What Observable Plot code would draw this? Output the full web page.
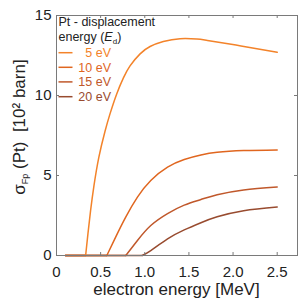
<!DOCTYPE html>
<html>
<head>
<meta charset="utf-8">
<script src="https://cdn.jsdelivr.net/npm/d3@7"></script>
<script src="https://cdn.jsdelivr.net/npm/@observablehq/plot@0.6"></script>
<style>
  html, body { margin: 0; padding: 0; background: #fff; }
  #chart { width: 305px; height: 305px; }
</style>
</head>
<body>
<div id="chart"></div>
<script>
// ---- data ----
const seriesLabels = ["5 eV", "10 eV", "15 eV", "20 eV"];
const seriesColors = ["#f3832a", "#e0661f", "#c0582b", "#984b2f"];

// first point = start of the flat part, second = threshold where the curve rises
const energy5 = [0.1, 0.33, 0.356, 0.386, 0.424, 0.48, 0.549, 0.606, 0.682, 0.758, 0.833, 0.947, 1.06, 1.21, 1.40, 1.59, 1.71, 2.09, 2.5];
const sigma5  = [0, 0, 1.35, 2.8, 4.35, 6.15, 7.75, 8.85, 10.1, 11.1, 11.85, 12.6, 13.06, 13.37, 13.55, 13.53, 13.44, 13.1, 12.7];

const energy10 = [0.1, 0.57, 0.67, 0.784, 0.917, 1.068, 1.258, 1.447, 1.636, 1.82, 2.12, 2.5];
const sigma10  = [0, 0, 1.15, 2.4, 3.65, 4.69, 5.52, 6.0, 6.28, 6.45, 6.56, 6.6];

const energy15 = [0.1, 0.785, 0.917, 1.068, 1.258, 1.447, 1.636, 1.82, 2.12, 2.5];
const sigma15  = [0, 0, 0.94, 1.875, 2.62, 3.15, 3.5, 3.8, 4.1, 4.28];

const energy20 = [0.1, 0.97, 1.068, 1.258, 1.447, 1.636, 1.82, 2.12, 2.5];
const sigma20  = [0, 0, 0.31, 1.04, 1.6, 2.05, 2.42, 2.8, 3.03];

const xTicks = [0, 0.5, 1.0, 1.5, 2.0, 2.5];
const yTicks = [0, 5, 10, 15];
const xTickLabels = ["0", "0.5", "1.0", "1.5", "2.0", "2.5"];

const xLabel = "electron energy [MeV]";
const legendTitle1 = "Pt - displacement";

// ---- build table ----
const energies = [energy5, energy10, energy15, energy20];
const sigmas = [sigma5, sigma10, sigma15, sigma20];
const rows = [];
energies.forEach((es, k) => es.forEach((e, j) => rows.push({e, s: sigmas[k][j], ed: seriesLabels[k], i: j})));
const flatRows = rows.filter(d => d.i <= 1);
const riseRows = rows.filter(d => d.i >= 1);

const W = 305, H = 305, mL = 56, mR = 8, mT = 15, mB = 50;
const frameW = W - mL - mR, frameH = H - mT - mB;
const tickLen = 3;
const axisColor = "#7a7a7a";
const font = "'Liberation Sans', Arial, Helvetica, sans-serif";

const chart = Plot.plot({
  width: W, height: H,
  marginLeft: mL, marginRight: mR, marginTop: mT, marginBottom: mB,
  style: {fontFamily: font, background: "white", color: "#222"},
  x: {domain: [0, 2.73]},
  y: {domain: [0, 15]},
  color: {domain: seriesLabels, range: seriesColors},
  marks: [
    Plot.line(flatRows, {x: "e", y: "s", z: "ed", stroke: "ed", strokeWidth: 1.5}),
    Plot.line(riseRows, {x: "e", y: "s", z: "ed", stroke: "ed", curve: "natural", strokeWidth: 1.5}),
    Plot.frame({stroke: axisColor}),
    Plot.tickX(xTicks, {x: d => d, insetTop: frameH - tickLen, stroke: axisColor}),
    Plot.tickX(xTicks, {x: d => d, insetBottom: frameH - tickLen, stroke: axisColor}),
    Plot.tickY(yTicks, {y: d => d, insetRight: frameW - tickLen, stroke: axisColor}),
    Plot.tickY(yTicks, {y: d => d, insetLeft: frameW - tickLen, stroke: axisColor}),
    Plot.axisX({ticks: xTicks, tickSize: 0, tickPadding: 11, fontSize: 15,
      tickFormat: d => xTickLabels[xTicks.indexOf(d)], label: null, fill: "#222"}),
    Plot.axisY({ticks: yTicks, tickSize: 0, tickPadding: 5, fontSize: 15, label: null, fill: "#222"})
  ]
});

document.getElementById("chart").appendChild(chart);

// ---- titles and legend ----
const svg = d3.select(chart);

svg.append("text")
  .attr("x", mL + frameW / 2).attr("y", 295)
  .attr("text-anchor", "middle")
  .attr("font-family", font).attr("font-size", 17).attr("fill", "#222")
  .text(xLabel);

const yl = svg.append("text")
  .attr("transform", "translate(25,127) rotate(-90)")
  .attr("text-anchor", "middle")
  .attr("font-family", font).attr("font-size", 17).attr("fill", "#222");
yl.append("tspan").text("σ");
yl.append("tspan").attr("font-size", 9).attr("dy", 3).text("Fp");
yl.append("tspan").attr("dy", -3).text(" (Pt)  [10² barn]");

const lg = svg.append("g").attr("font-family", font).attr("font-size", 12.5)
  .attr("fill", "#222").attr("text-anchor", "start");
lg.append("text").attr("x", 58.5).attr("y", 26).attr("text-anchor", "start").text(legendTitle1);
const t2 = lg.append("text").attr("x", 58.5).attr("y", 41).attr("text-anchor", "start");
t2.append("tspan").text("energy (");
t2.append("tspan").attr("font-style", "italic").text("E");
t2.append("tspan").attr("font-size", 8).attr("dy", 3).text("d");
t2.append("tspan").attr("dy", -3).text(")");

const rowY = [52.7, 67.3, 81.9, 96.7];
seriesLabels.forEach((lab, k) => {
  lg.append("line").attr("x1", 58.5).attr("x2", 72.5).attr("y1", rowY[k]).attr("y2", rowY[k])
    .attr("stroke", seriesColors[k]).attr("stroke-width", 1.5);
  lg.append("text").attr("x", 111).attr("y", rowY[k] + 4.5).attr("text-anchor", "end")
    .attr("fill", seriesColors[k]).text(lab);
});
</script>
</body>
</html>
